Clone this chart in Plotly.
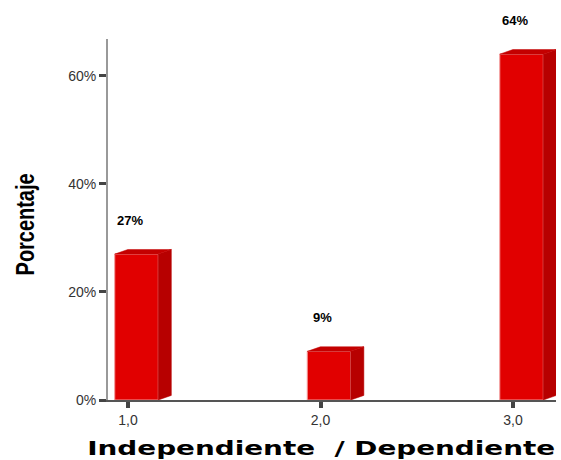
import plotly.graph_objects as go

categories = [1.0, 2.0, 3.0]
tick_labels = ["1,0", "2,0", "3,0"]
percentages = [27, 9, 64]
value_labels = ["27%", "9%", "64%"]
y_tick_values = [0, 20, 40, 60]
y_tick_labels = ["0%", "20%", "40%", "60%"]

# bar geometry (data units)
front_offset = 0.044
bar_width = 0.226
depth_x = 0.068
depth_y = 0.85

front_color = "#E10000"
side_color = "#B70000"
top_color = "#C40000"

fig = go.Figure()

fig.add_trace(go.Bar(
    x=[c + front_offset for c in categories], y=percentages, width=bar_width,
    marker=dict(color=front_color, line=dict(color="#F39A9A", width=1)),
    hoverinfo="skip", showlegend=False))

side_x, side_y, top_x, top_y = [], [], [], []
for c, v in zip(categories, percentages):
    xl = c + front_offset - bar_width / 2
    xr = c + front_offset + bar_width / 2
    side_x += [xr, xr + depth_x, xr + depth_x, xr, xr, None]
    side_y += [0, depth_y, v + depth_y, v, 0, None]
    top_x += [xl, xr, xr + depth_x, xl + depth_x, xl, None]
    top_y += [v, v, v + depth_y, v + depth_y, v, None]

fig.add_trace(go.Scatter(x=side_x, y=side_y, mode="lines", fill="toself",
                         fillcolor=side_color, line=dict(color=side_color, width=0.5),
                         hoverinfo="skip", showlegend=False))
fig.add_trace(go.Scatter(x=top_x, y=top_y, mode="lines", fill="toself",
                         fillcolor=top_color, line=dict(color=top_color, width=0.5),
                         hoverinfo="skip", showlegend=False))

for c, v, t in zip(categories, percentages, value_labels):
    fig.add_annotation(x=c + 0.01, y=v, text=t, showarrow=False, yshift=34,
                       font=dict(family="Liberation Sans", size=13, color="#000000",
                                 weight="bold"))

fig.add_annotation(xref="paper", yref="paper", x=-0.185, y=0.487, xanchor="center",
                   yanchor="middle", text="Porcentaje", textangle=-90, showarrow=False,
                   font=dict(family="Liberation Sans", size=25, color="#000000",
                             weight="bold"))
fig.add_annotation(xref="paper", yref="paper", x=0.475, y=-0.134, yanchor="middle",
                   text="Independiente  / Dependiente", showarrow=False,
                   font=dict(family="DejaVu Sans", size=20, color="#000000", weight="bold"))

fig.update_layout(
    width=561, height=460,
    margin=dict(l=108, r=5, t=39, b=60),
    paper_bgcolor="white", plot_bgcolor="white",
    xaxis=dict(range=[0.896, 3.223], tickvals=categories, ticktext=tick_labels,
               showgrid=False, zeroline=False, showline=True, linecolor="#555555",
               linewidth=1.5, ticks="outside", ticklen=6, tickwidth=4, tickcolor="#444444",
               tickfont=dict(family="Liberation Sans", size=14, color="#333333")),
    yaxis=dict(range=[0, 66.8], tickvals=y_tick_values, ticktext=y_tick_labels,
               showgrid=False, zeroline=False, showline=True, linecolor="#999999",
               linewidth=2, ticks="outside", ticklen=7, tickwidth=3, tickcolor="#444444",
               tickfont=dict(family="Liberation Sans", size=14, color="#333333")),
)

post = """
document.body.style.margin = '0';
document.body.style.overflow = 'hidden';
var stretch = {'Independiente  / Dependiente': 468, 'Porcentaje': 102};
document.querySelectorAll('text.annotation-text').forEach(function(el){
  var t = el.textContent;
  for (var k in stretch) {
    if (t.replace(/\\s+/g,' ') === k.replace(/\\s+/g,' ')) {
      el.setAttribute('textLength', stretch[k]);
      el.setAttribute('lengthAdjust', 'spacingAndGlyphs');
    }
  }
});
"""

fig.write_html("out.html", post_script=post, config={"displayModeBar": False})
